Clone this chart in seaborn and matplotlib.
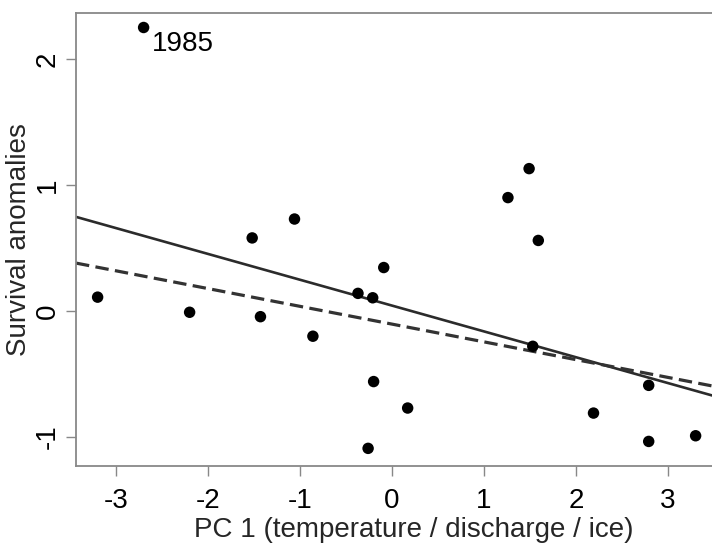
import matplotlib
matplotlib.use("Agg")
import matplotlib.pyplot as plt
import seaborn as sns
import numpy as np
import pandas as pd

# PC1 scores and survival anomalies
pc1 = [-3.20, -2.70, -2.20, -1.52, -1.43, -1.06, -0.86, -0.37, -0.26, -0.21,
       -0.20, -0.09, 0.17, 1.26, 1.49, 1.53, 1.59, 2.19, 2.79, 2.79, 3.30]
survival = [0.11, 2.25, -0.01, 0.58, -0.045, 0.73, -0.20, 0.14, -1.09, 0.105,
            -0.56, 0.345, -0.77, 0.90, 1.13, -0.28, 0.56, -0.81, -0.59, -1.035, -0.99]

# fitted lines: (intercept, slope)
fit_solid = (0.043, -0.205)
fit_dashed = (-0.104, -0.141)

label_year = "1985"
label_x, label_y = -2.70, 2.25

xlim = (-3.435, 3.478)
ylim = (-1.23, 2.365)
xticks = [-3, -2, -1, 0, 1, 2, 3]
yticks = [-1, 0, 1, 2]

sns.set_theme(style="white")
plt.rcParams["font.family"] = ["Liberation Sans", "DejaVu Sans"]

fig = plt.figure(figsize=(7.12, 5.44), dpi=100)
ax = fig.add_axes([76 / 712, 78 / 544, 1 - 76 / 712, 453 / 544])

df = pd.DataFrame({"pc1": pc1, "survival": survival})
sns.scatterplot(data=df, x="pc1", y="survival", ax=ax, color="black",
                s=68, edgecolor="none", zorder=3)

xs = np.array(xlim)
lines = pd.DataFrame({
    "x": np.concatenate([xs, xs]),
    "y": np.concatenate([fit_solid[0] + fit_solid[1] * xs,
                         fit_dashed[0] + fit_dashed[1] * xs]),
    "fit": ["solid"] * 2 + ["dashed"] * 2,
})
sns.lineplot(data=lines[lines.fit == "solid"], x="x", y="y", ax=ax,
             color="#2b2b2b", linewidth=1.9)
sns.lineplot(data=lines[lines.fit == "dashed"], x="x", y="y", ax=ax,
             color="#333333", linewidth=2.3, dashes=False, linestyle=(0, (4.2, 2.0)))

ax.text(label_x + 0.09, label_y - 0.03, label_year, fontsize=20,
        ha="left", va="top", color="black")

ax.set_xlim(*xlim)
ax.set_ylim(*ylim)
ax.set_xticks(xticks)
ax.set_yticks(yticks)
ax.set_xticklabels([str(t) for t in xticks])
ax.set_yticklabels([str(t) for t in yticks], rotation=90, va="center")

ax.tick_params(axis="both", which="both", direction="out", length=7,
               width=1, color="#888888", labelsize=20, labelcolor="black")
ax.tick_params(axis="x", pad=9, bottom=True)
ax.tick_params(axis="y", pad=4, left=True)

for side in ["left", "top", "bottom"]:
    ax.spines[side].set_visible(True)
    ax.spines[side].set_color("#888888")
    ax.spines[side].set_linewidth(1.3)
ax.spines["right"].set_visible(False)

ax.set_xlabel("PC 1 (temperature / discharge / ice)", fontsize=20)
ax.set_ylabel("Survival anomalies", fontsize=20)
ax.xaxis.set_label_coords(0.531, -0.113)
ax.yaxis.set_label_coords(-0.069, 0.5)

fig.savefig("out.png", dpi=100)
